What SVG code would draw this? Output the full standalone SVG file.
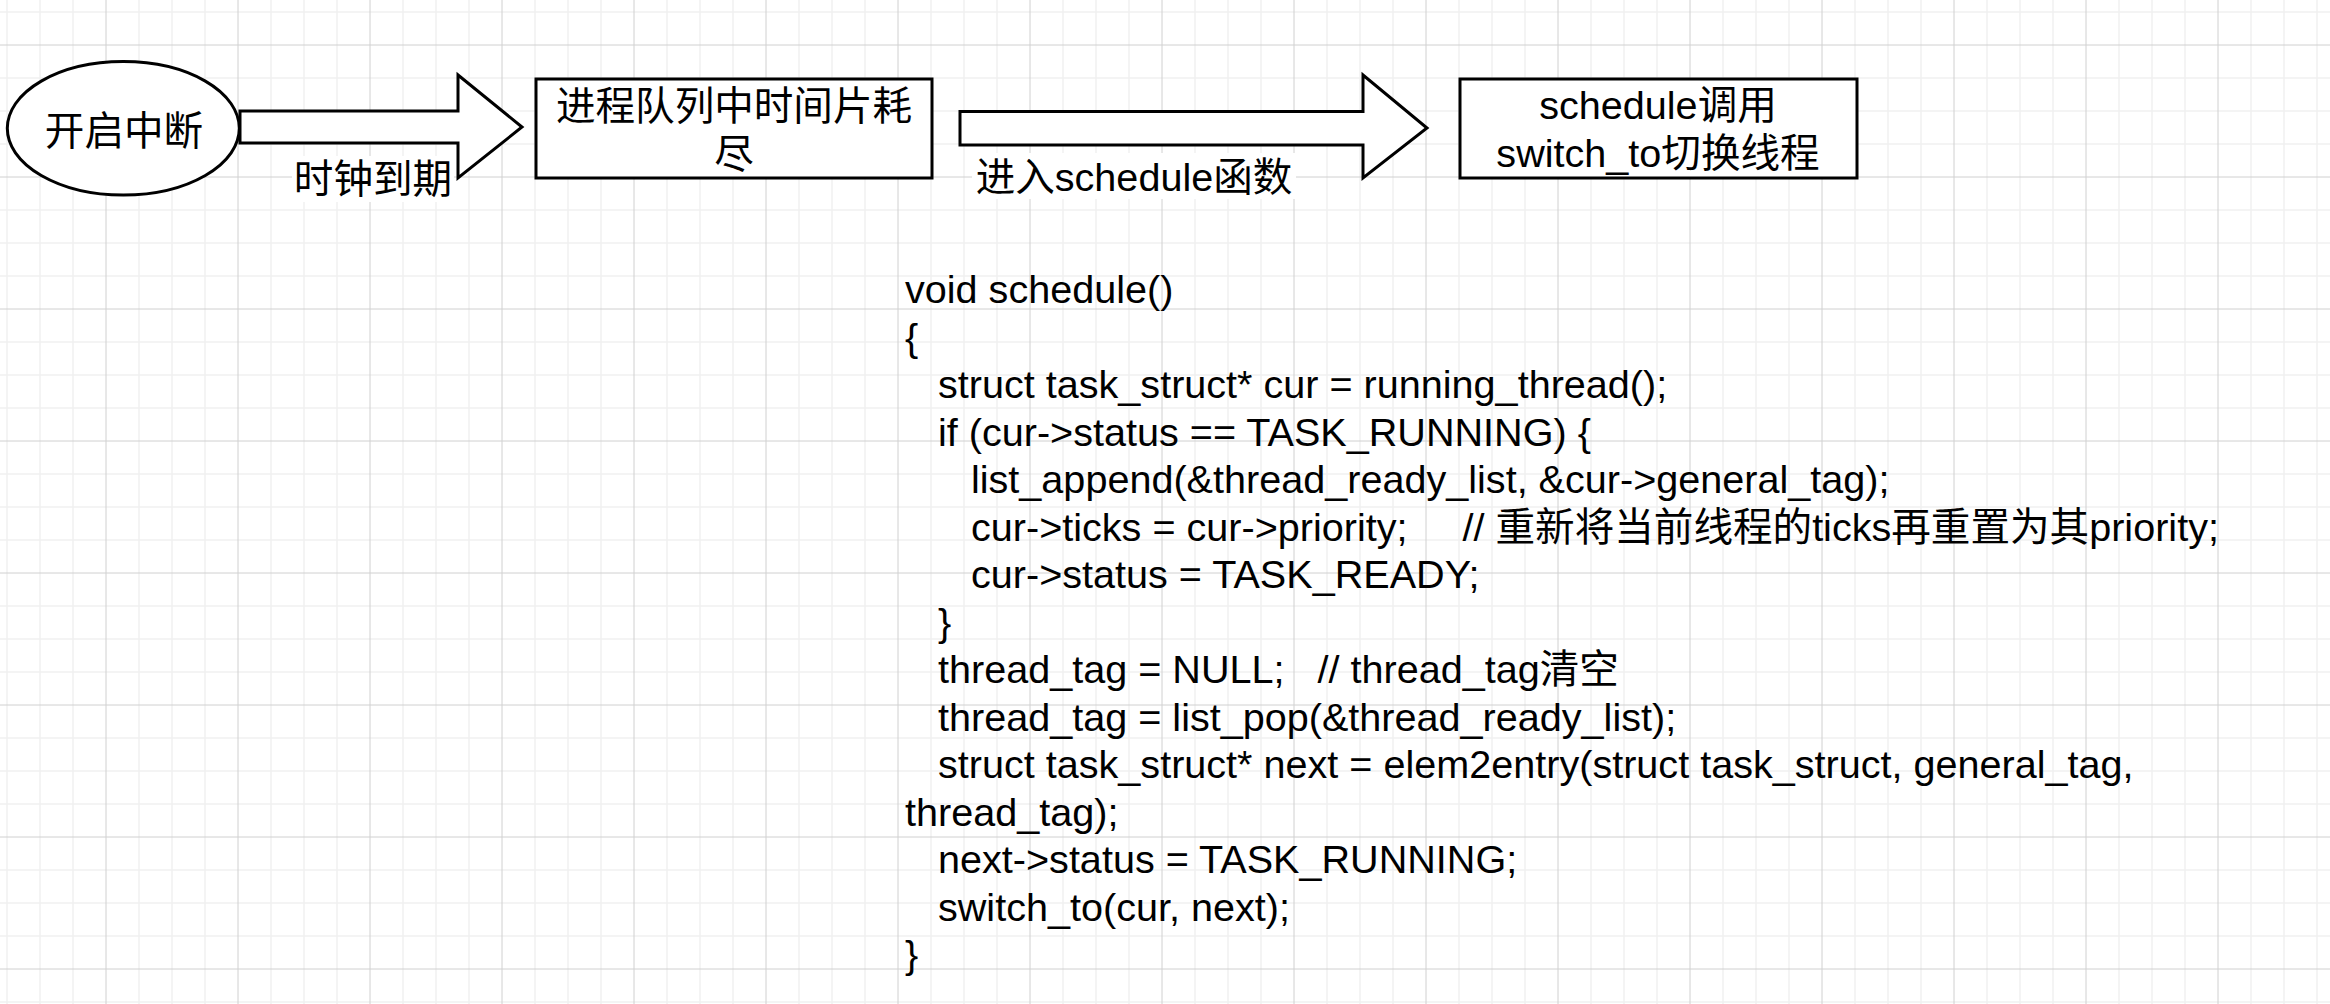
<svg xmlns="http://www.w3.org/2000/svg" width="2330" height="1004" viewBox="0 0 2330 1004">
  <style>
    .shape { fill: #ffffff; stroke: #000000; stroke-width: 3; stroke-linejoin: miter; }
    .txt { font-family: "Liberation Sans", "Noto Sans CJK SC", sans-serif; font-size: 39.6px; fill: #000000; }
    .mid { text-anchor: middle; }
    .lblbg { fill: #ffffff; stroke: none; }
    .minor { stroke: #f1f1f1; stroke-width: 1.5; }
    .major { stroke: #d0d0d0; stroke-width: 1; }
  </style>
  <defs>
    <pattern id="grid" patternUnits="userSpaceOnUse" x="105" y="44" width="132" height="132">
      <line class="minor" x1="34" y1="0" x2="34" y2="132"/>
      <line class="minor" x1="67" y1="0" x2="67" y2="132"/>
      <line class="minor" x1="100" y1="0" x2="100" y2="132"/>
      <line class="minor" x1="0" y1="34" x2="132" y2="34"/>
      <line class="minor" x1="0" y1="67" x2="132" y2="67"/>
      <line class="minor" x1="0" y1="100" x2="132" y2="100"/>
      <line class="major" x1="1" y1="0" x2="1" y2="132"/>
      <line class="major" x1="0" y1="1" x2="132" y2="1"/>
    </pattern>
  </defs>
  <rect x="0" y="0" width="2330" height="1004" fill="#ffffff"/>
  <rect x="0" y="0" width="2330" height="1004" fill="url(#grid)"/>

  <g id="connectors">
    <g id="edge-clock">
      <path class="shape" d="M240,111 L458,111 L458,75 L522,127 L458,178 L458,143 L240,143 Z"/>
      <rect class="lblbg" x="292" y="156" width="162" height="46"/>
      <text class="txt mid" x="373" y="193">时钟到期</text>
    </g>
    <g id="edge-enter">
      <path class="shape" d="M960,111.5 L1363,111.5 L1363,75 L1427,128 L1363,178 L1363,145 L960,145 Z"/>
      <rect class="lblbg" x="972" y="153" width="324" height="46"/>
      <text class="txt mid" x="1134" y="191">进入schedule函数</text>
    </g>
  </g>

  <g id="node-interrupt">
    <ellipse class="shape" cx="123.3" cy="128.3" rx="116" ry="66.7"/>
    <text class="txt mid" x="124" y="145">开启中断</text>
  </g>

  <g id="node-timeslice">
    <rect class="shape" x="536" y="79" width="396" height="99"/>
    <text class="txt mid" x="734" y="120">进程队列中时间片耗</text>
    <text class="txt mid" x="734" y="168">尽</text>
  </g>

  <g id="node-switch">
    <rect class="shape" x="1460" y="79" width="397" height="99"/>
    <text class="txt mid" x="1658" y="119">schedule调用</text>
    <text class="txt mid" x="1658" y="167">switch_to切换线程</text>
  </g>

  <g id="node-code" class="txt">
    <text x="905" y="303">void schedule()</text>
    <text x="905" y="350.5">{</text>
    <text x="905" y="398">&#160;&#160;&#160;struct task_struct* cur = running_thread();</text>
    <text x="905" y="445.5">&#160;&#160;&#160;if (cur-&gt;status == TASK_RUNNING) {</text>
    <text x="905" y="493">&#160;&#160;&#160;&#160;&#160;&#160;list_append(&amp;thread_ready_list, &amp;cur-&gt;general_tag);</text>
    <text x="905" y="540.5">&#160;&#160;&#160;&#160;&#160;&#160;cur-&gt;ticks = cur-&gt;priority;&#160;&#160;&#160;&#160;&#160;// 重新将当前线程的ticks再重置为其priority;</text>
    <text x="905" y="588">&#160;&#160;&#160;&#160;&#160;&#160;cur-&gt;status = TASK_READY;</text>
    <text x="905" y="635.5">&#160;&#160;&#160;}</text>
    <text x="905" y="683">&#160;&#160;&#160;thread_tag = NULL;&#160;&#160;&#160;// thread_tag清空</text>
    <text x="905" y="730.5">&#160;&#160;&#160;thread_tag = list_pop(&amp;thread_ready_list);</text>
    <text x="905" y="778">&#160;&#160;&#160;struct task_struct* next = elem2entry(struct task_struct, general_tag,</text>
    <text x="905" y="825.5">thread_tag);</text>
    <text x="905" y="873">&#160;&#160;&#160;next-&gt;status = TASK_RUNNING;</text>
    <text x="905" y="920.5">&#160;&#160;&#160;switch_to(cur, next);</text>
    <text x="905" y="968">}</text>
  </g>
</svg>
